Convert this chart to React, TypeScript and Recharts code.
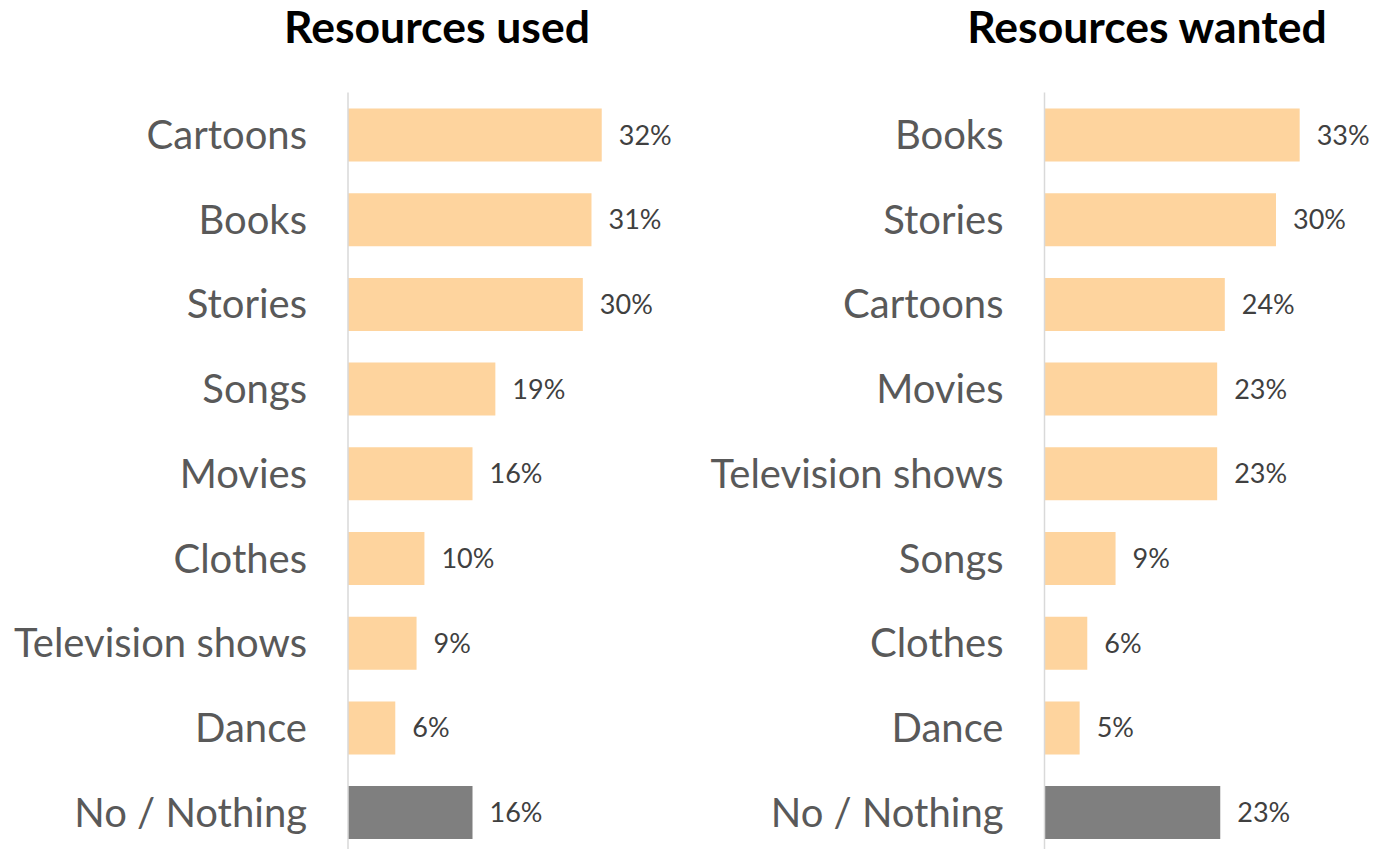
import React from 'react';
import { BarChart, Bar, XAxis, YAxis, LabelList, Cell } from 'recharts';

const usedCategories = ['Cartoons', 'Books', 'Stories', 'Songs', 'Movies', 'Clothes', 'Television shows', 'Dance', 'No / Nothing'];
const usedValues = [32.2, 30.9, 29.8, 18.7, 15.8, 9.7, 8.7, 6.0, 15.8];

const wantedCategories = ['Books', 'Stories', 'Cartoons', 'Movies', 'Television shows', 'Songs', 'Clothes', 'Dance', 'No / Nothing'];
const wantedValues = [33.4, 30.3, 23.6, 22.6, 22.6, 9.3, 5.6, 4.6, 23.0];

const FONT = 'Lato, "Open Sans", sans-serif';
const PEACH = '#FED49E';
const GREY = '#7F7F7F';

const fmt = (v: any) => `${Math.round(Number(v))}%`;

type PanelProps = {
  categories: string[];
  values: number[];
  width: number;
  axisWidth: number;
  rightMargin: number;
};

function Panel({ categories, values, width, axisWidth, rightMargin }: PanelProps) {
  const data = categories.map((name, i) => ({ name, value: values[i] }));
  return (
    <BarChart
      width={width}
      height={870}
      data={data}
      layout="vertical"
      margin={{ top: 92.5, right: rightMargin, bottom: 15.2, left: 0 }}
    >
      <XAxis type="number" domain={[0, 40]} hide />
      <YAxis
        type="category"
        dataKey="name"
        width={axisWidth}
        axisLine={{ stroke: '#D9D9D9', strokeWidth: 1.5 }}
        tickLine={false}
        tickMargin={35}
        interval={0}
        tick={{ fill: '#595959', fontSize: 40, fontFamily: FONT }}
      />
      <Bar dataKey="value" barSize={53} isAnimationActive={false}>
        {data.map((d) => (
          <Cell key={d.name} fill={d.name === 'No / Nothing' ? GREY : PEACH} />
        ))}
        <LabelList
          dataKey="value"
          position="right"
          offset={17}
          formatter={fmt}
          style={{ fill: '#404040', fontSize: 27, fontFamily: FONT }}
        />
      </Bar>
    </BarChart>
  );
}

const titleStyle: React.CSSProperties = {
  position: 'absolute',
  top: 0,
  fontFamily: FONT,
  fontWeight: 700,
  fontSize: 44.5,
  lineHeight: '52px',
  color: '#000',
  textAlign: 'center',
  whiteSpace: 'nowrap',
};

export default function App() {
  return (
    <div
      style={{
        position: 'absolute',
        top: 0,
        left: 0,
        width: 1374,
        height: 849,
        overflow: 'hidden',
        background: '#fff',
      }}
    >
      <div style={{ ...titleStyle, left: 237, width: 400 }}>Resources used</div>
      <div style={{ ...titleStyle, left: 947, width: 400 }}>Resources wanted</div>
      <div style={{ position: 'absolute', left: 0, top: 0 }}>
        <Panel categories={usedCategories} values={usedValues} width={700} axisWidth={348} rightMargin={36.8} />
      </div>
      <div style={{ position: 'absolute', left: 700, top: 0 }}>
        <Panel categories={wantedCategories} values={wantedValues} width={674} axisWidth={344.5} rightMargin={23.9} />
      </div>
    </div>
  );
}
